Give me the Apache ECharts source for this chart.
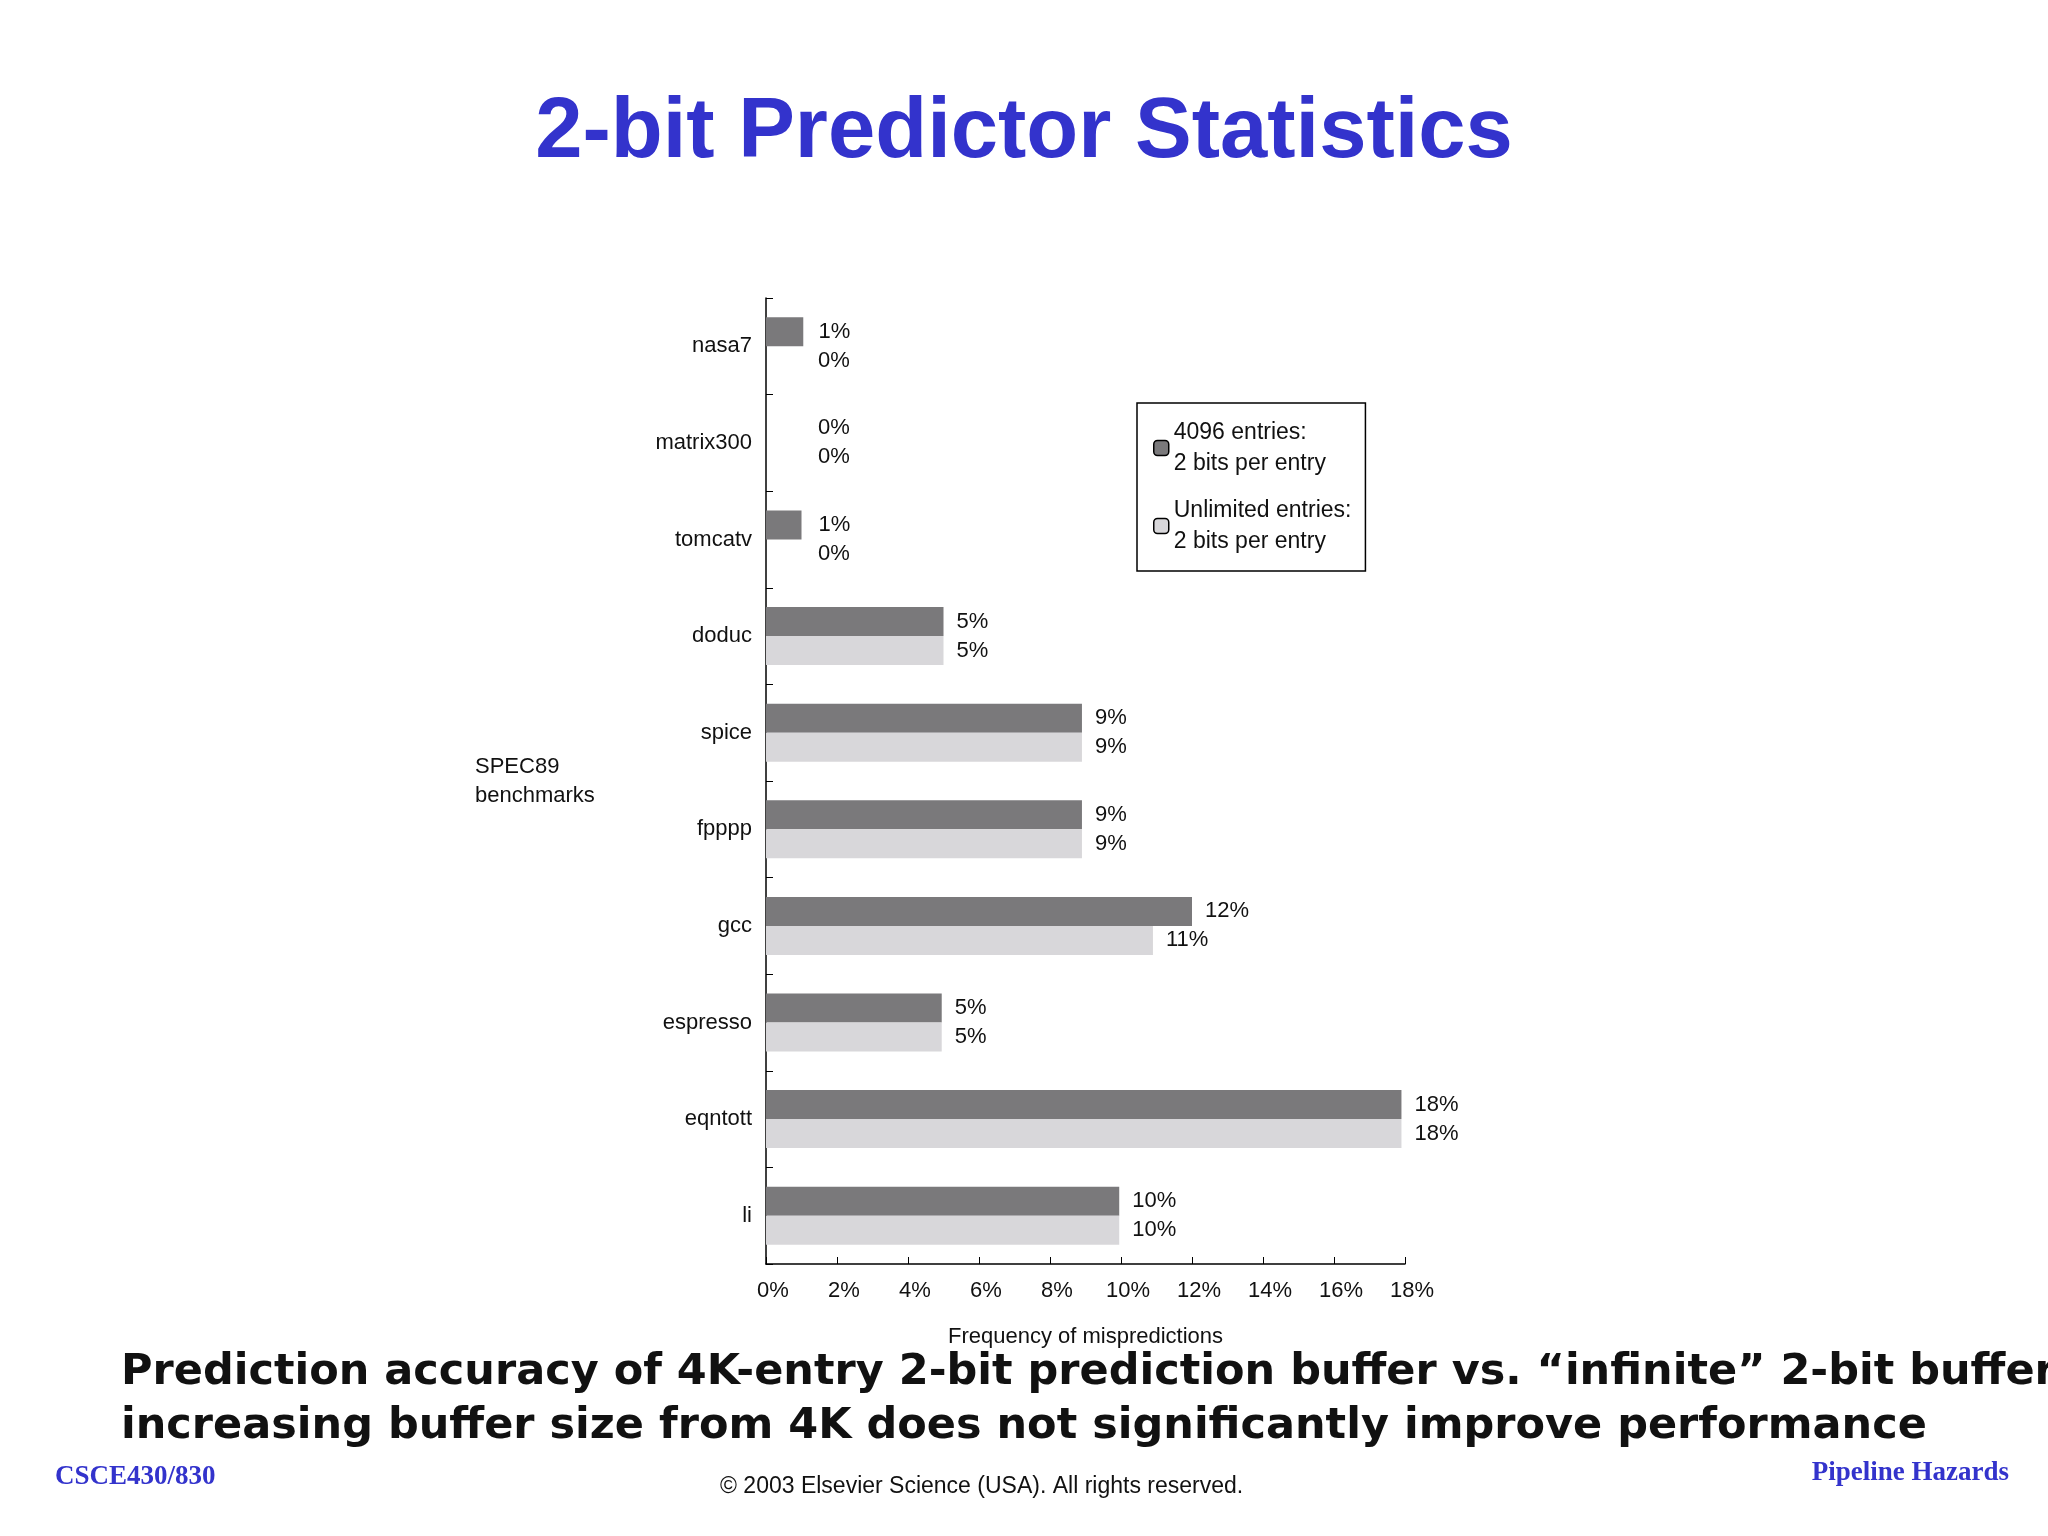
<!DOCTYPE html>
<html><head><meta charset="utf-8">
<script src="https://cdn.jsdelivr.net/npm/echarts@6/dist/echarts.min.js"></script>
<style>html,body{margin:0;padding:0;background:#fff}#c{width:2048px;height:1536px}</style>
</head><body><div id="c"></div>
<script>
const categories = ['nasa7','matrix300','tomcatv','doduc','spice','fpppp','gcc','espresso','eqntott','li'];
const entries4096 = [1.05, 0, 1.0, 5.0, 8.9, 8.9, 12.0, 4.95, 17.9, 9.95];
const unlimited = [0, 0, 0, 5.0, 8.9, 8.9, 10.9, 4.95, 17.9, 9.95];
const labels4096 = ['1%','0%','1%','5%','9%','9%','12%','5%','18%','10%'];
const labelsUnl = ['0%','0%','0%','5%','9%','9%','11%','5%','18%','10%'];
const xTicks = [0,2,4,6,8,10,12,14,16,18];

function mk(vals, labs){
  return vals.map((v,i)=>({value:v, label:{distance: v<1.2 ? 52-(v*35) : 13, formatter: labs[i]}}));
}
const chart = echarts.init(document.getElementById('c'));
const font = 'Liberation Sans, Arial, sans-serif';
chart.setOption({
  animation:false,
  backgroundColor:'#fff',
  title:{text:'2-bit Predictor Statistics',left:'center',top:86,textStyle:{fontFamily:font,fontWeight:'bold',fontSize:85,color:'#3333cc'}},
  legend:{orient:'vertical',left:1137,top:403,width:236,itemWidth:15,itemHeight:15,itemGap:16,
    padding:[14,14,14,16],borderColor:'#000',borderWidth:1.5,
    itemStyle:{borderColor:'#000',borderWidth:1.5},
    textStyle:{fontFamily:font,fontSize:23,color:'#111',lineHeight:31},
    formatter:n=> n==='4096'?'4096 entries:\n2 bits per entry':'Unlimited entries:\n2 bits per entry'},
  grid:{left:766,right:643,top:298,bottom:272},
  xAxis:{type:'value',min:0,max:18,interval:2,
    axisLine:{show:true,lineStyle:{color:'#000',width:1.5}},
    axisTick:{show:true,inside:true,length:7,lineStyle:{color:'#000'}},
    splitLine:{show:false},
    axisLabel:{margin:16,padding:[0,0,0,14],fontFamily:font,fontSize:22,color:'#111',formatter:v=>v+'%'},
    name:'Frequency of mispredictions',nameLocation:'middle',nameGap:62,
    nameTextStyle:{fontFamily:font,fontSize:22,color:'#111'}},
  yAxis:{type:'category',data:categories,inverse:true,
    axisLine:{show:true,lineStyle:{color:'#000',width:1.5}},
    axisTick:{show:true,inside:true,length:7,lineStyle:{color:'#000'}},
    axisLabel:{margin:14,fontFamily:font,fontSize:22,color:'#111'}},
  series:[
    {name:'4096',type:'bar',data:mk(entries4096,labels4096),barGap:'0%',barCategoryGap:'40%',
     itemStyle:{color:'#7a797b'},label:{show:true,position:'right',fontFamily:font,fontSize:22,color:'#111'}},
    {name:'Unlimited',type:'bar',data:mk(unlimited,labelsUnl),
     itemStyle:{color:'#d8d7da'},label:{show:true,position:'right',fontFamily:font,fontSize:22,color:'#111'}}
  ],
  graphic:[
    {type:'text',left:475,top:752,style:{text:'SPEC89\nbenchmarks',fontFamily:font,fontSize:22,lineHeight:29,fill:'#111'}},
    {type:'text',left:121,top:1346,style:{text:'Prediction accuracy of 4K-entry 2-bit prediction buffer vs. \u201cinfinite\u201d 2-bit buffer:\nincreasing buffer size from 4K does not significantly improve performance',
      fontFamily:'DejaVu Sans, sans-serif',fontWeight:'bold',fontSize:43,lineHeight:54,fill:'#111'}},
    {type:'text',left:55,top:1464,style:{text:'CSCE430/830',fontFamily:'Liberation Serif, serif',fontWeight:'bold',fontSize:27,fill:'#3333cc'}},
    {type:'text',right:39,top:1460,style:{text:'Pipeline Hazards',fontFamily:'Liberation Serif, serif',fontWeight:'bold',fontSize:27,fill:'#3333cc'}},
    {type:'text',left:720,top:1475,style:{text:'\u00a9 2003 Elsevier Science (USA). All rights reserved.',fontFamily:font,fontSize:23,fill:'#111'}}
  ]
});
</script></body></html>
